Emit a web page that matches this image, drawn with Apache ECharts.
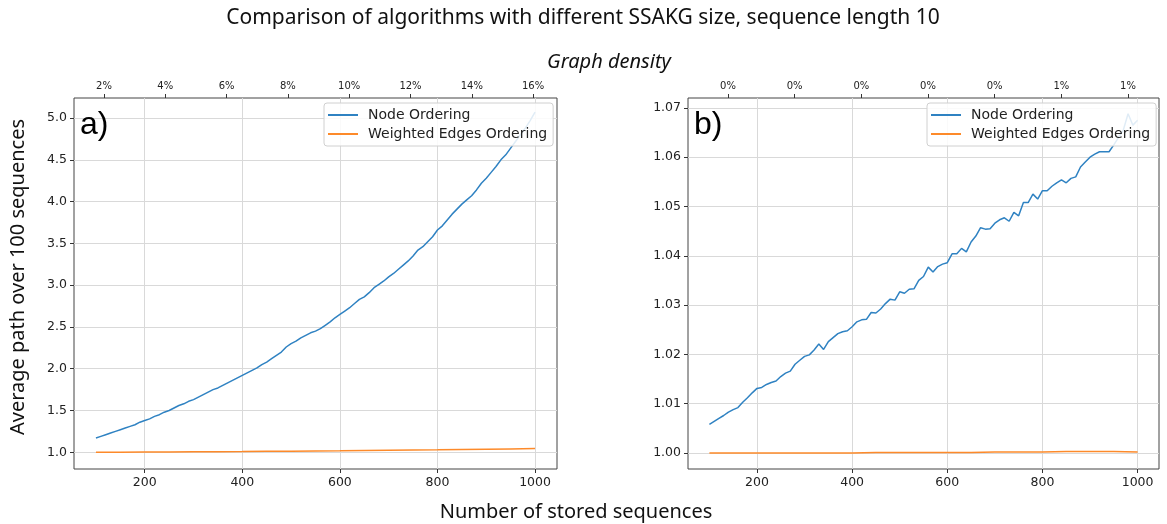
<!DOCTYPE html>
<html>
<head>
<meta charset="utf-8">
<script src="https://cdn.jsdelivr.net/npm/echarts@6/dist/echarts.min.js"></script>
<style>
  html, body { margin: 0; padding: 0; background: #fff; }
  #chart { width: 1167px; height: 524px; }
</style>
</head>
<body>
<div id="chart"></div>
<script>
// number of stored sequences (x values of the node ordering runs)
const storedSeqs = [100, 110, 120, 130, 140, 150, 160, 170, 180, 190,
    200, 210, 220, 230, 240, 250, 260, 270, 280, 290,
    300, 310, 320, 330, 340, 350, 360, 370, 380, 390,
    400, 410, 420, 430, 440, 450, 460, 470, 480, 490,
    500, 510, 520, 530, 540, 550, 560, 570, 580, 590,
    600, 610, 620, 630, 640, 650, 660, 670, 680, 690,
    700, 710, 720, 730, 740, 750, 760, 770, 780, 790,
    800, 810, 820, 830, 840, 850, 860, 870, 880, 890,
    900, 910, 920, 930, 940, 950, 960, 970, 980, 990, 1000];

// panel a)
const nodeOrderingA = [1.17, 1.19, 1.21, 1.23, 1.25, 1.27, 1.29, 1.31, 1.33, 1.36,
    1.38, 1.40, 1.43, 1.45, 1.48, 1.50, 1.53, 1.56, 1.58, 1.61,
    1.63, 1.66, 1.69, 1.72, 1.75, 1.77, 1.80, 1.83, 1.86, 1.89,
    1.92, 1.95, 1.98, 2.01, 2.05, 2.08, 2.12, 2.16, 2.20, 2.26,
    2.30, 2.33, 2.37, 2.40, 2.43, 2.45, 2.48, 2.52, 2.56, 2.61,
    2.65, 2.69, 2.73, 2.78, 2.83, 2.86, 2.91, 2.97, 3.01, 3.05,
    3.10, 3.14, 3.19, 3.24, 3.29, 3.35, 3.42, 3.46, 3.52, 3.58,
    3.66, 3.71, 3.78, 3.85, 3.91, 3.97, 4.02, 4.07, 4.14, 4.22,
    4.28, 4.35, 4.42, 4.50, 4.56, 4.64, 4.72, 4.80, 4.88, 4.97, 5.07];

const weightedSeqs = [100, 150, 200, 250, 300, 350, 400, 450, 500, 550,
    600, 650, 700, 750, 800, 850, 900, 950, 1000];
const weightedEdgesA = [1.000, 1.001, 1.002, 1.003, 1.005, 1.006, 1.008, 1.011, 1.013, 1.016,
    1.018, 1.021, 1.024, 1.027, 1.030, 1.034, 1.037, 1.040, 1.044];

// panel b)
const nodeOrderingB = [1.0058, 1.0064, 1.0070, 1.0076, 1.0083, 1.0088, 1.0092, 1.0103, 1.0112, 1.0122,
    1.0131, 1.0133, 1.0139, 1.0143, 1.0146, 1.0155, 1.0162, 1.0166, 1.0180, 1.0188,
    1.0196, 1.0199, 1.0209, 1.0221, 1.0210, 1.0226, 1.0234, 1.0242, 1.0246, 1.0248,
    1.0256, 1.0266, 1.0270, 1.0271, 1.0285, 1.0284, 1.0292, 1.0303, 1.0312, 1.0310,
    1.0327, 1.0324, 1.0332, 1.0333, 1.0350, 1.0358, 1.0377, 1.0367, 1.0378, 1.0383,
    1.0386, 1.0404, 1.0404, 1.0415, 1.0408, 1.0428, 1.0440, 1.0457, 1.0454, 1.0455,
    1.0466, 1.0473, 1.0477, 1.0470, 1.0488, 1.0481, 1.0508, 1.0508, 1.0525, 1.0515,
    1.0532, 1.0532, 1.0541, 1.0548, 1.0554, 1.0548, 1.0557, 1.0560, 1.0580, 1.0590,
    1.0600, 1.0606, 1.0611, 1.0611, 1.0611, 1.0625, 1.0640, 1.0655, 1.0688, 1.0665, 1.0675];
const weightedEdgesB = [1.0000, 1.0000, 1.0000, 1.0000, 1.0000, 1.0000, 1.0000, 1.0001, 1.0001, 1.0001,
    1.0001, 1.0001, 1.0002, 1.0002, 1.0002, 1.0003, 1.0003, 1.0003, 1.0002];

// tick labels
const xTicks = [200, 400, 600, 800, 1000];
const yTicksA = [1.0, 1.5, 2.0, 2.5, 3.0, 3.5, 4.0, 4.5, 5.0];
const yTicksB = [1.00, 1.01, 1.02, 1.03, 1.04, 1.05, 1.06, 1.07];
const densityTicksA = [2, 4, 6, 8, 10, 12, 14, 16];
const densityLabelsA = ['2%', '4%', '6%', '8%', '10%', '12%', '14%', '16%'];
const densityTicksB = [0.1, 0.2, 0.3, 0.4, 0.5, 0.6, 0.7];
const densityLabelsB = ['0%', '0%', '0%', '0%', '0%', '1%', '1%'];

const BLUE = '#2f82c2';
const ORANGE = '#fd8a2a';
const tickFont = 'DejaVu Sans';
const textFont = 'Noto Sans';

function pair(xs, ys) {
    return xs.map((x, i) => [x, ys[i]]);
}

function labelFor(ticks, labels) {
    return function (v) {
        for (let i = 0; i < ticks.length; i++) {
            if (Math.abs(ticks[i] - v) < 1e-6) return labels[i];
        }
        return '';
    };
}

function bottomAxis(gridIndex) {
    return {
        type: 'value', gridIndex: gridIndex, position: 'bottom',
        min: 55, max: 1045,
        axisLine: {show: false},
        axisTick: {show: true, length: 4, customValues: xTicks, lineStyle: {color: '#333'}},
        axisLabel: {customValues: xTicks, margin: 7, fontFamily: tickFont, fontSize: 12.5, color: '#222',
            formatter: v => String(v)},
        splitLine: {show: true, lineStyle: {color: '#d9d9d9', width: 1}}
    };
}

function topAxis(gridIndex, min, max, ticks, labels) {
    return {
        type: 'value', gridIndex: gridIndex, position: 'top',
        min: min, max: max,
        axisLine: {show: false},
        axisTick: {show: true, length: 4, customValues: ticks, lineStyle: {color: '#333'}},
        axisLabel: {customValues: ticks, margin: 7, fontFamily: tickFont, fontSize: 10, color: '#222',
            formatter: labelFor(ticks, labels)},
        splitLine: {show: false}
    };
}

function leftAxis(gridIndex, min, max, ticks, digits) {
    return {
        type: 'value', gridIndex: gridIndex,
        min: min, max: max,
        axisLine: {show: false},
        axisTick: {show: true, length: 4, customValues: ticks, lineStyle: {color: '#333'}},
        axisLabel: {customValues: ticks, margin: 7, fontFamily: tickFont, fontSize: 12.5, color: '#222',
            formatter: v => v.toFixed(digits)},
        splitLine: {show: true, lineStyle: {color: '#d9d9d9', width: 1}}
    };
}

function lineSeries(name, color, xi, yi, data) {
    return {
        name: name, type: 'line', xAxisIndex: xi, yAxisIndex: yi,
        data: data, showSymbol: false, symbol: 'none',
        itemStyle: {color: color},
        lineStyle: {color: color, width: 1.5},
        z: name === 'Node Ordering' ? 3 : 4
    };
}

function legendAt(left, top) {
    return {
        left: left, top: top, orient: 'vertical',
        data: ['Node Ordering', 'Weighted Edges Ordering'],
        icon: 'rect', itemWidth: 30, itemHeight: 2, itemGap: 5,
        padding: [5, 6, 5, 4],
        backgroundColor: 'rgba(255,255,255,0.85)',
        borderColor: '#d0d0d0', borderWidth: 1, borderRadius: 3,
        textStyle: {fontFamily: tickFont, fontSize: 14, color: '#222', padding: [0, 0, 0, 5]},
        selectedMode: false
    };
}

const chart = echarts.init(document.getElementById('chart'));

const option = {
    animation: false,
    backgroundColor: '#fff',
    grid: [
        {left: 74, top: 98, width: 483, height: 371, show: true, borderColor: '#444', borderWidth: 1, backgroundColor: 'transparent'},
        {left: 688, top: 98, width: 471, height: 371, show: true, borderColor: '#444', borderWidth: 1, backgroundColor: 'transparent'}
    ],
    xAxis: [
        bottomAxis(0),
        bottomAxis(1),
        topAxis(0, 1.021, 16.78, densityTicksA, densityLabelsA),
        topAxis(1, 0.04, 0.7465, densityTicksB, densityLabelsB)
    ],
    yAxis: [
        leftAxis(0, 0.8, 5.24, yTicksA, 1),
        leftAxis(1, 0.99675, 1.072, yTicksB, 2)
    ],
    legend: [legendAt(324, 103), legendAt(927, 103)],
    series: [
        lineSeries('Node Ordering', BLUE, 0, 0, pair(storedSeqs, nodeOrderingA)),
        lineSeries('Weighted Edges Ordering', ORANGE, 0, 0, pair(weightedSeqs, weightedEdgesA)),
        lineSeries('Node Ordering', BLUE, 1, 1, pair(storedSeqs, nodeOrderingB)),
        lineSeries('Weighted Edges Ordering', ORANGE, 1, 1, pair(weightedSeqs, weightedEdgesB))
    ],
    graphic: [
        {type: 'text', x: 583, y: 18, style: {text: 'Comparison of algorithms with different SSAKG size, sequence length 10',
            font: '21px "' + textFont + '"', fill: '#111', align: 'center', verticalAlign: 'middle'}},
        {type: 'text', x: 609, y: 62, style: {text: 'Graph density', font: 'italic 20px "' + textFont + '"',
            fill: '#111', align: 'center', verticalAlign: 'middle'}},
        {type: 'text', x: 576, y: 512, style: {text: 'Number of stored sequences', font: '20px "' + textFont + '"',
            fill: '#111', align: 'center', verticalAlign: 'middle'}},
        {type: 'text', x: 18, y: 277, rotation: Math.PI / 2, style: {text: 'Average path over 100 sequences',
            font: '20px "' + textFont + '"', fill: '#111', align: 'center', verticalAlign: 'middle'}},
        {type: 'text', x: 80, y: 125, style: {text: 'a)', font: '32px "Liberation Sans"', fill: '#000', verticalAlign: 'middle'}, z: 10},
        {type: 'text', x: 694, y: 125, style: {text: 'b)', font: '32px "Liberation Sans"', fill: '#000', verticalAlign: 'middle'}, z: 10}
    ]
};

chart.setOption(option);

window.addEventListener('resize', function () {
    chart.resize();
});
</script>
</body>
</html>
